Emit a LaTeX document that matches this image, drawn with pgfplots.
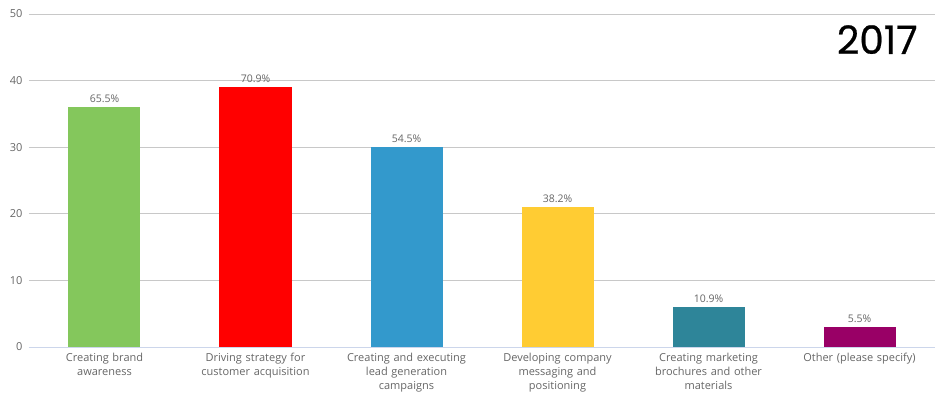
\documentclass[border=0pt]{standalone}
\usepackage{pgfplots}
\pgfplotsset{compat=1.18}
\usepackage{fontspec}
\setmainfont{Open Sans}
\newfontfamily\titlefont[FakeBold=0.6]{Poppins}
\definecolor{lab}{HTML}{666666}
\definecolor{gridc}{HTML}{C8C8C8}
\definecolor{axcol}{HTML}{CCD6EB}
\definecolor{c1}{HTML}{84C75C}
\definecolor{c2}{HTML}{FF0000}
\definecolor{c3}{HTML}{3399CC}
\definecolor{c4}{HTML}{FFCC33}
\definecolor{c5}{HTML}{2E8599}
\definecolor{c6}{HTML}{990066}
\begin{document}
\begin{tikzpicture}
\begin{axis}[
  scale only axis, width=906pt, height=333pt,
  at={(0,0)}, anchor=south west,
  xmin=-0.5, xmax=5.5, ymin=0, ymax=50,
  ytick={0,10,...,50},
  ymajorgrids, major grid style={gridc, line width=0.75pt},
  axis x line*=bottom, axis y line*=left,
  y axis line style={draw=none},
  x axis line style={axcol, line width=0.75pt},
  ytick style={draw=none},
  xtick={0,...,5},
  xticklabels={{Creating brand\\awareness},{Driving strategy for\\customer acquisition},{Creating and executing\\lead generation\\campaigns},{Developing company\\messaging and\\positioning},{Creating marketing\\brochures and other\\materials},{Other (please specify)}},
  xtick style={draw=none},
  extra x ticks={-0.5,0.5,1.5,2.5,3.5,4.5,5.5},
  extra x tick labels={},
  extra x tick style={major tick length=5pt, tick align=outside, tick style={axcol, line width=0.75pt}, xmajorgrids=false},
  x tick label style={font=\fontsize{11}{13.8}\selectfont, text=lab, align=center, text width=150pt, anchor=north, inner sep=0pt, yshift=-2pt},
  y tick label style={font=\fontsize{11}{12}\selectfont, text=lab, xshift=-3pt},
  /pgf/number format/assume math mode=true,
  ybar, bar width=72pt,
  nodes near coords, point meta=explicit symbolic,
  every node near coord/.append style={font=\fontsize{10.5}{12}\selectfont, text=lab, yshift=1pt},
]
\addplot[fill=c1, draw=none, bar shift=0pt] coordinates {(0,36) [65.5\%]};
\addplot[fill=c2, draw=none, bar shift=0pt] coordinates {(1,39) [70.9\%]};
\addplot[fill=c3, draw=none, bar shift=0pt] coordinates {(2,30) [54.5\%]};
\addplot[fill=c4, draw=none, bar shift=0pt] coordinates {(3,21) [38.2\%]};
\addplot[fill=c5, draw=none, bar shift=0pt] coordinates {(4,6) [10.9\%]};
\addplot[fill=c6, draw=none, bar shift=0pt] coordinates {(5,3) [5.5\%]};
\node[anchor=north east, inner sep=0pt, font=\titlefont\fontsize{39}{40}\selectfont] at (rel axis cs:0.981,0.967) {2017};
\end{axis}
\pgfresetboundingbox
\path[use as bounding box] (-29pt,-49pt) rectangle (916pt,347pt);
\end{tikzpicture}
\end{document}
